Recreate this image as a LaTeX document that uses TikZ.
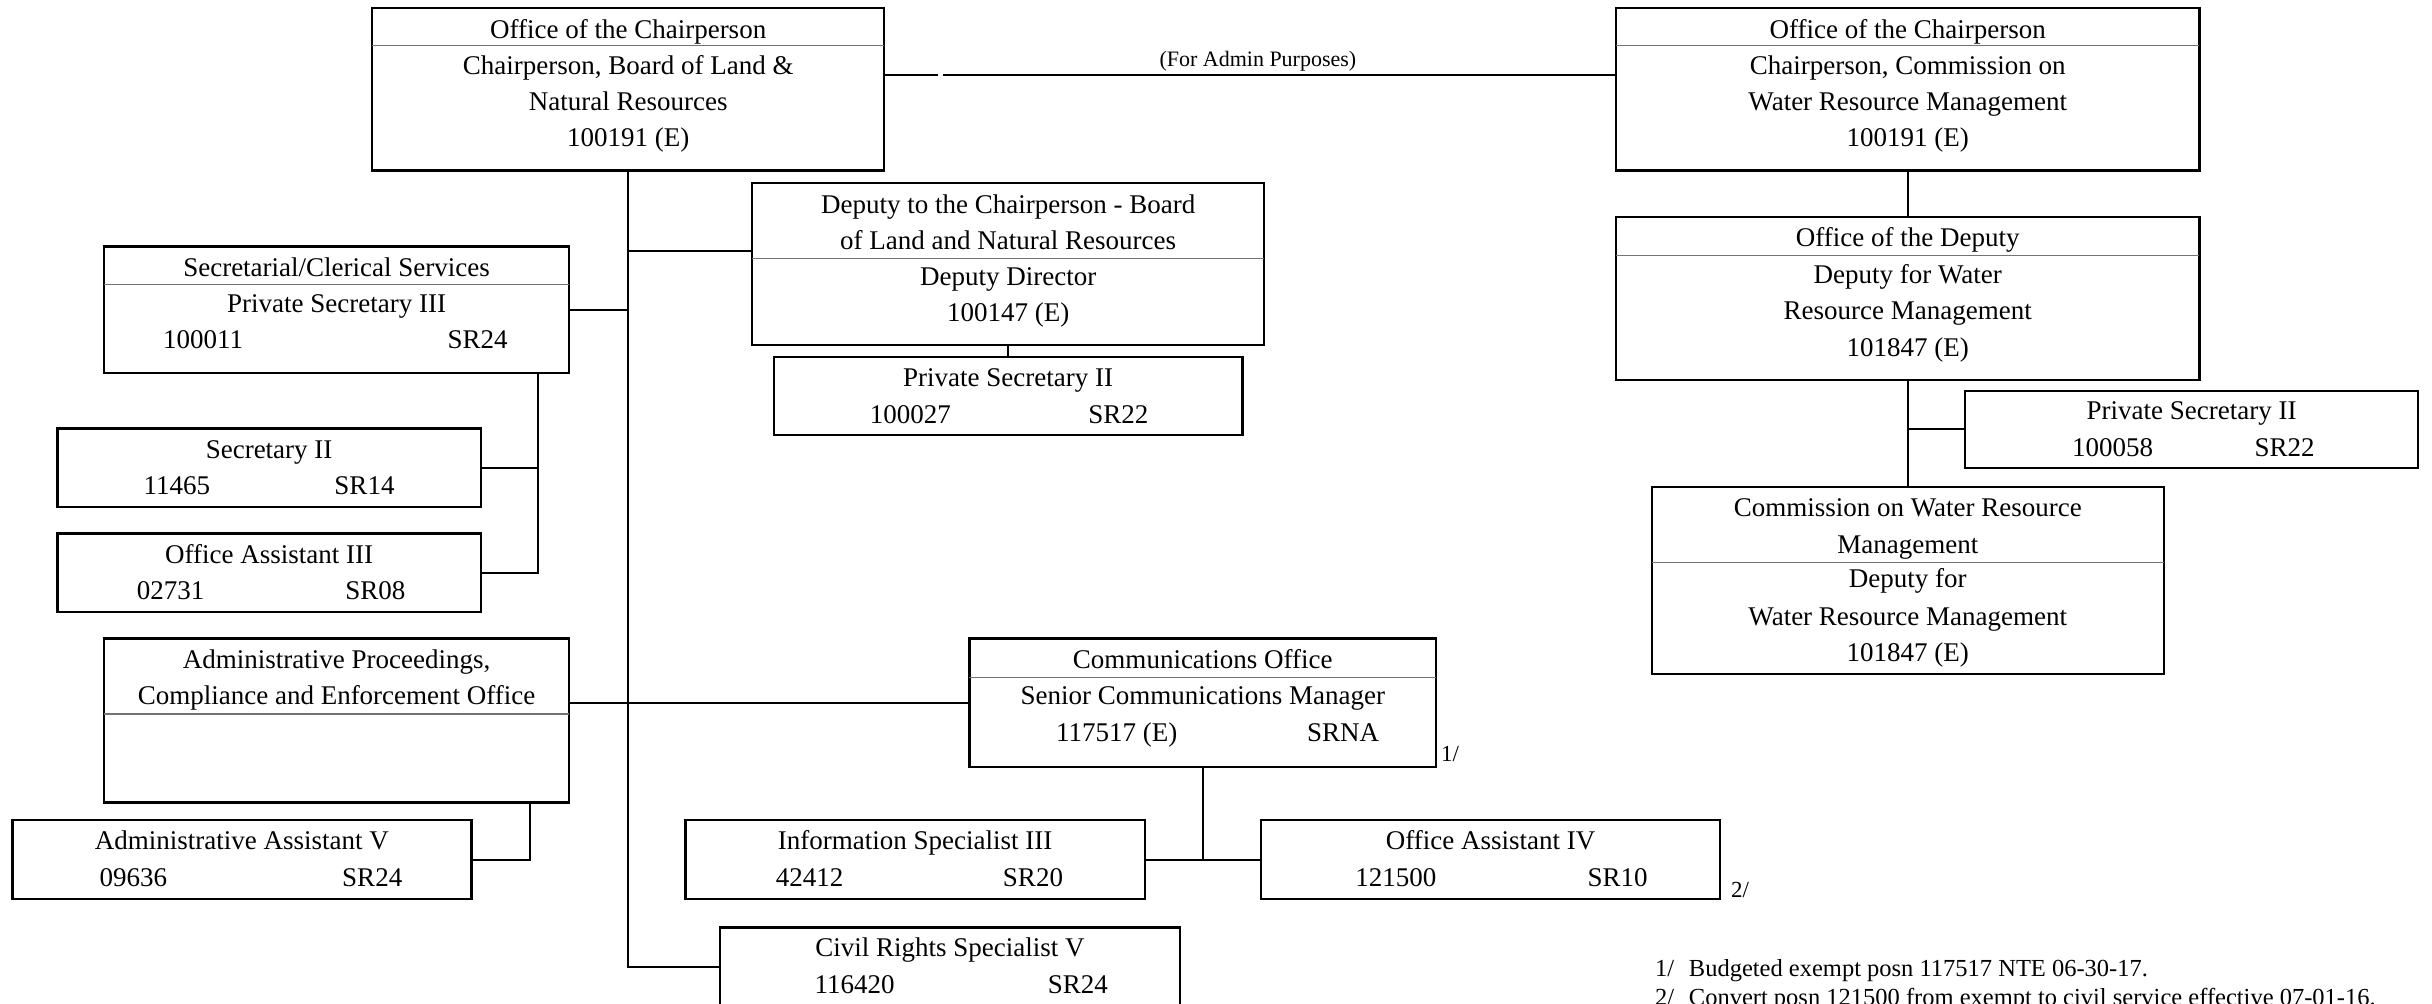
\documentclass[tikz,border=0pt]{standalone}
\usepackage{fontspec}
\setmainfont{Liberation Serif}
\usetikzlibrary{fit}
\newcounter{tc}
\newcommand\tx[3]{\stepcounter{tc}\node[txt] (t\arabic{tc}) at (#1,#2) {#3};}
\newcommand\ftx[3]{\stepcounter{tc}\node[txt,anchor=base west] (t\arabic{tc}) at (#1,#2) {#3};}
\begin{document}
\begin{tikzpicture}[x=1.551pt,y=-1.551pt,
  orgbox/.style={draw, line width=2.3pt, inner sep=0pt, outer sep=0pt, fit={#1}},
  txt/.style={anchor=base, inner sep=0pt, font=\fontsize{27}{32}\selectfont},
  divider/.style={draw=black!55, line width=1.3pt},
  conn/.style={draw, line width=2pt},
  note/.style={anchor=base, inner sep=0pt, font=\fontsize{22}{26}\selectfont},
  fnote/.style={font=\fontsize{24.5}{28}\selectfont}]
\useasboundingbox (0,0) rectangle (1568,647.3);

% ---------- boxes ----------
\node[orgbox={(240,5)(570,110)}] (chairL) {};
\node[orgbox={(1042,5)(1418,110)}] (chairR) {};
\node[orgbox={(485,118)(815,222.5)}] (depL) {};
\node[orgbox={(499,230)(801,280.5)}] (psL) {};
\node[orgbox={(67,159)(367,240.3)}] (secc) {};
\node[orgbox={(37,276.2)(310,326.7)}] (sec2) {};
\node[orgbox={(37,344)(310,394.4)}] (oa3) {};
\node[orgbox={(67,411.6)(367,517.3)}] (apc) {};
\node[orgbox={(8,528.7)(304,579.8)}] (aav) {};
\node[orgbox={(625,411.6)(926,494.3)}] (comms) {};
\node[orgbox={(442,528.7)(738,579.8)}] (infos) {};
\node[orgbox={(813,528.7)(1109,579.8)}] (oa4) {};
\node[orgbox={(464,598)(761,649.5)}] (civil) {};
\node[orgbox={(1042,140)(1418,245)}] (depR) {};
\node[orgbox={(1267,251.9)(1559,301.8)}] (psR) {};
\node[orgbox={(1065,314)(1395,434.4)}] (comm) {};

% ---------- dividers ----------
\draw[divider] (chairL.west |- 0,29.5) -- (chairL.east |- 0,29.5);
\draw[divider] (chairR.west |- 0,29.5) -- (chairR.east |- 0,29.5);
\draw[divider] (depL.west |- 0,166.5) -- (depL.east |- 0,166.5);
\draw[divider] (secc.west |- 0,183.3) -- (secc.east |- 0,183.3);
\draw[divider] (apc.west |- 0,460.3) -- (apc.east |- 0,460.3);
\draw[divider] (comms.west |- 0,436.9) -- (comms.east |- 0,436.9);
\draw[divider] (depR.west |- 0,164.8) -- (depR.east |- 0,164.8);
\draw[divider] (comm.west |- 0,362.6) -- (comm.east |- 0,362.6);

% ---------- connectors ----------
\coordinate (gapL) at (605,48.4);
\coordinate (gapR) at (608,48.4);
\draw[conn] (chairL.east |- gapL) -- (gapL);
\draw[conn] (gapR) -- (chairR.west |- gapR);
\node[note] (admin) at (811,43) {(For Admin Purposes)};

\draw[conn] (chairL.south) -- (chairL.south |- civil.west) -- (civil.west);
\draw[conn] (chairL.south |- 0,162) -- (depL.west |- 0,162);
\draw[conn] (secc.east) -- (chairL.south |- secc.east);
\draw[conn] (apc.east |- comms.west) -- (comms.west);
\draw[conn] (depL.south) -- (psL.north);
\draw[conn] (secc.south -| 347,0) -- (oa3.east -| 347,0) -- (oa3.east);
\draw[conn] (sec2.east) -- (sec2.east -| 347,0);
\draw[conn] (apc.south -| 342,0) -- (aav.east -| 342,0) -- (aav.east);
\draw[conn] (comms.south) -- (comms.south |- infos.east);
\draw[conn] (infos.east) -- (oa4.west);
\draw[conn] (chairR.south) -- (depR.north);
\draw[conn] (depR.south) -- (comm.north);
\draw[conn] (depR.south |- psR.west) -- (psR.west);

% ---------- texts ----------
\tx{405}{25}{Office of the Chairperson}
\tx{405}{48.2}{Chairperson, Board of Land \&}
\tx{405}{71.2}{Natural Resources}
\tx{405}{94.3}{100191 (E)}

\tx{1230}{25}{Office of the Chairperson}
\tx{1230}{48.2}{Chairperson, Commission on}
\tx{1230}{71.2}{Water Resource Management}
\tx{1230}{94.3}{100191 (E)}

\tx{650}{137.8}{Deputy to the Chairperson - Board}
\tx{650}{160.8}{of Land and Natural Resources}
\tx{650}{184}{Deputy Director}
\tx{650}{207.3}{100147 (E)}

\tx{650}{249.3}{Private Secretary II}
\tx{587}{272.9}{100027}
\tx{721}{272.9}{SR22}

\tx{217}{178.4}{Secretarial/Clerical Services}
\tx{217}{201.2}{Private Secretary III}
\tx{131}{224.6}{100011}
\tx{308}{224.6}{SR24}

\tx{173.5}{295.5}{Secretary II}
\tx{114}{319}{11465}
\tx{235}{319}{SR14}

\tx{173.5}{363.2}{Office Assistant III}
\tx{110}{386.8}{02731}
\tx{242}{386.8}{SR08}

\tx{217}{430.9}{Administrative Proceedings,}
\tx{217}{454.5}{Compliance and Enforcement Office}

\tx{156}{548}{Administrative Assistant V}
\tx{86}{571.7}{09636}
\tx{240}{571.7}{SR24}

\tx{775.5}{430.9}{Communications Office}
\tx{775.5}{454.5}{Senior Communications Manager}
\tx{720}{478.2}{117517 (E)}
\tx{866}{478.2}{SRNA}
\ftx{929}{491}{\fontsize{23}{26}\selectfont 1/}

\tx{590}{548}{Information Specialist III}
\tx{522}{571.7}{42412}
\tx{666}{571.7}{SR20}

\tx{961}{548}{Office Assistant IV}
\tx{900}{571.7}{121500}
\tx{1043}{571.7}{SR10}
\ftx{1116}{578.5}{\fontsize{23}{26}\selectfont 2/}

\tx{612.5}{616.8}{Civil Rights Specialist V}
\tx{551}{640.4}{116420}
\tx{695}{640.4}{SR24}

\tx{1230}{159}{Office of the Deputy}
\tx{1230}{182.7}{Deputy for Water}
\tx{1230}{206.3}{Resource Management}
\tx{1230}{230}{101847 (E)}

\tx{1413}{270.5}{Private Secretary II}
\tx{1362}{294}{100058}
\tx{1473}{294}{SR22}

\tx{1230}{332.9}{Commission on Water Resource}
\tx{1230}{356.7}{Management}
\tx{1230}{378.8}{Deputy for}
\tx{1230}{403.1}{Water Resource Management}
\tx{1230}{426.3}{101847 (E)}

\ftx{1067}{629.3}{\fontsize{24.5}{28}\selectfont 1/\hspace{0.6em}Budgeted exempt posn 117517 NTE 06-30-17.}
\ftx{1067}{648.5}{\fontsize{24.5}{28}\selectfont 2/\hspace{0.6em}Convert posn 121500 from exempt to civil service effective 07-01-16.}
\end{tikzpicture}
\end{document}
